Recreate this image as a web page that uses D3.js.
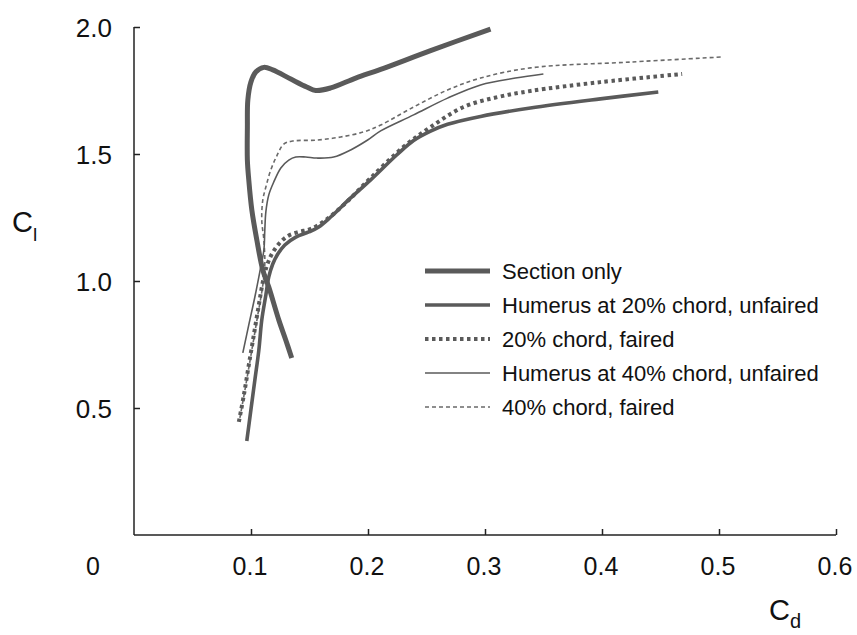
<!DOCTYPE html>
<html>
<head>
<meta charset="utf-8">
<script src="https://cdn.jsdelivr.net/npm/d3@7"></script>
<style>
  html, body { margin: 0; padding: 0; background: #fff; }
  svg { display: block; font-family: "Liberation Sans", Arial, Helvetica, sans-serif; }
</style>
</head>
<body>
<svg id="chart" width="857" height="635"></svg>
<script>
// Lift coefficient (Cl) vs drag coefficient (Cd) polars

const xTicks = [0.1, 0.2, 0.3, 0.4, 0.5, 0.6];
const yTicks = [0.5, 1.0, 1.5, 2.0];
const xTickLabels = ["0.1", "0.2", "0.3", "0.4", "0.5", "0.6"];
const yTickLabels = ["0.5", "1.0", "1.5", "2.0"];

const seriesNames = [
  "Section only",
  "Humerus at 20% chord, unfaired",
  "20% chord, faired",
  "Humerus at 40% chord, unfaired",
  "40% chord, faired"
];

// [Cd, Cl] pairs for each polar
const sectionOnly = [
  [0.1348, 0.697], [0.1297, 0.768], [0.1238, 0.846], [0.1152, 0.976], [0.1101, 1.043],
  [0.1050, 1.161], [0.1007, 1.280], [0.0981, 1.398], [0.0969, 1.476], [0.0969, 1.606],
  [0.0973, 1.713], [0.0999, 1.783], [0.1041, 1.823], [0.1110, 1.841], [0.1186, 1.831],
  [0.1340, 1.795], [0.1476, 1.764], [0.1553, 1.750], [0.1681, 1.760], [0.1895, 1.799],
  [0.2108, 1.833], [0.2535, 1.907], [0.3047, 1.992]
];

const humerus20Unfaired = [
  [0.0964, 0.370], [0.0999, 0.492], [0.1033, 0.610], [0.1067, 0.728], [0.1092, 0.846],
  [0.1127, 0.945], [0.1152, 1.016], [0.1186, 1.067], [0.1229, 1.106], [0.1289, 1.142],
  [0.1383, 1.173], [0.1494, 1.193], [0.1579, 1.213], [0.1681, 1.252], [0.1852, 1.327],
  [0.2023, 1.398], [0.2245, 1.496], [0.2390, 1.553], [0.2535, 1.590], [0.2680, 1.617],
  [0.2962, 1.648], [0.3388, 1.681], [0.3986, 1.717], [0.4481, 1.744]
];

const chord20Faired = [
  [0.0896, 0.445], [0.0939, 0.551], [0.0981, 0.669], [0.1024, 0.787], [0.1067, 0.906],
  [0.1101, 0.996], [0.1135, 1.059], [0.1178, 1.106], [0.1238, 1.146], [0.1314, 1.177],
  [0.1408, 1.193], [0.1511, 1.205], [0.1639, 1.240], [0.1809, 1.307], [0.2023, 1.406],
  [0.2304, 1.528], [0.2535, 1.606], [0.2816, 1.685], [0.3107, 1.724], [0.3388, 1.748],
  [0.3986, 1.783], [0.4685, 1.815]
];

const humerus40Unfaired = [
  [0.0930, 0.717], [0.0981, 0.827], [0.1033, 0.937], [0.1075, 1.035], [0.1110, 1.122],
  [0.1118, 1.201], [0.1127, 1.272], [0.1152, 1.339], [0.1195, 1.390], [0.1255, 1.445],
  [0.1323, 1.476], [0.1383, 1.488], [0.1468, 1.488], [0.1562, 1.484], [0.1707, 1.488],
  [0.1852, 1.516], [0.1997, 1.555], [0.2108, 1.591], [0.2390, 1.654], [0.2680, 1.720],
  [0.2962, 1.772], [0.3260, 1.799], [0.3499, 1.815]
];

const chord40Faired = [
  [0.0905, 0.461], [0.0956, 0.591], [0.1007, 0.728], [0.1058, 0.866], [0.1101, 0.984],
  [0.1118, 1.063], [0.1110, 1.161], [0.1092, 1.240], [0.1101, 1.319], [0.1127, 1.370],
  [0.1169, 1.437], [0.1220, 1.492], [0.1280, 1.539], [0.1357, 1.551], [0.1570, 1.555],
  [0.1767, 1.567], [0.1963, 1.587], [0.2108, 1.614], [0.2390, 1.685], [0.2680, 1.752],
  [0.2962, 1.799], [0.3388, 1.839], [0.4242, 1.862], [0.5027, 1.882]
];

const seriesData = [sectionOnly, humerus20Unfaired, chord20Faired, humerus40Unfaired, chord40Faired];

// Stroke styles for each polar (same order as seriesNames)
const styles = [
  { width: 5,   dash: null,      color: "#5a5a5a" },
  { width: 3.6, dash: null,      color: "#5a5a5a" },
  { width: 4,   dash: "3.5,3.5", color: "#5a5a5a" },
  { width: 1.6, dash: null,      color: "#5a5a5a" },
  { width: 1.6, dash: "4,3",     color: "#6a6a6a" }
];

const svg = d3.select("#chart");

const x = d3.scaleLinear().domain([0, 0.6]).range([134, 836]);
const y = d3.scaleLinear().domain([0, 2.0]).range([535, 27]);

const axisColor = "#222";

// Axes with inward ticks
const xAxis = d3.axisTop(x).tickValues(xTicks).tickSize(6).tickFormat("");
const yAxis = d3.axisRight(y).tickValues(yTicks).tickSize(6).tickFormat("");

const gx = svg.append("g").attr("transform", `translate(0,${y(0)})`).call(xAxis);
gx.select(".domain").attr("d", `M${x(0)},0H${x(0.6)}`);
const gy = svg.append("g").attr("transform", `translate(${x(0)},0)`).call(yAxis);
gy.select(".domain").attr("d", `M0,${y(0)}V${y(2.0)}`);

svg.selectAll(".domain, .tick line")
  .attr("stroke", axisColor)
  .attr("stroke-width", 1.5);

// Tick labels
svg.append("g").selectAll("text")
  .data(xTicks)
  .join("text")
  .attr("x", d => x(d) - 1)
  .attr("y", 575)
  .attr("text-anchor", "middle")
  .attr("font-size", 25)
  .attr("fill", "#111")
  .text((d, i) => xTickLabels[i]);

svg.append("g").selectAll("text")
  .data(yTicks)
  .join("text")
  .attr("x", 112)
  .attr("y", d => y(d) + 10)
  .attr("text-anchor", "end")
  .attr("font-size", 26)
  .attr("fill", "#111")
  .text((d, i) => yTickLabels[i]);

// Shared origin label
svg.append("text")
  .attr("x", 93)
  .attr("y", 575)
  .attr("text-anchor", "middle")
  .attr("font-size", 25)
  .attr("fill", "#111")
  .text("0");

// Axis titles
const clLabel = svg.append("text").attr("x", 12).attr("y", 232).attr("fill", "#111");
clLabel.append("tspan").attr("font-size", 29).text("C");
clLabel.append("tspan").attr("font-size", 19).attr("dy", 9).text("l");

const cdLabel = svg.append("text").attr("x", 769).attr("y", 620).attr("fill", "#111");
cdLabel.append("tspan").attr("font-size", 29).text("C");
cdLabel.append("tspan").attr("font-size", 20).attr("dy", 8).text("d");

// Polar curves
const line = d3.line()
  .x(d => x(d[0]))
  .y(d => y(d[1]))
  .curve(d3.curveCatmullRom.alpha(0.5));

const drawOrder = [4, 3, 2, 1, 0];
svg.append("g").selectAll("path")
  .data(drawOrder)
  .join("path")
  .attr("d", i => line(seriesData[i]))
  .attr("fill", "none")
  .attr("stroke", i => styles[i].color)
  .attr("stroke-width", i => styles[i].width)
  .attr("stroke-dasharray", i => styles[i].dash)
  .attr("stroke-linejoin", "round");

// Legend
const legendRowY = d3.scalePoint().domain(d3.range(seriesNames.length)).range([271, 407]);
const legend = svg.append("g");
const rows = legend.selectAll("g")
  .data(seriesNames)
  .join("g")
  .attr("transform", (d, i) => `translate(0,${legendRowY(i)})`);

rows.append("line")
  .attr("x1", 425).attr("x2", 490)
  .attr("y1", 0).attr("y2", 0)
  .attr("stroke", (d, i) => styles[i].color)
  .attr("stroke-width", (d, i) => styles[i].width)
  .attr("stroke-dasharray", (d, i) => styles[i].dash);

rows.append("text")
  .attr("x", 502)
  .attr("y", 7.5)
  .attr("font-size", 22)
  .attr("fill", "#111")
  .text(d => d);
</script>
</body>
</html>
